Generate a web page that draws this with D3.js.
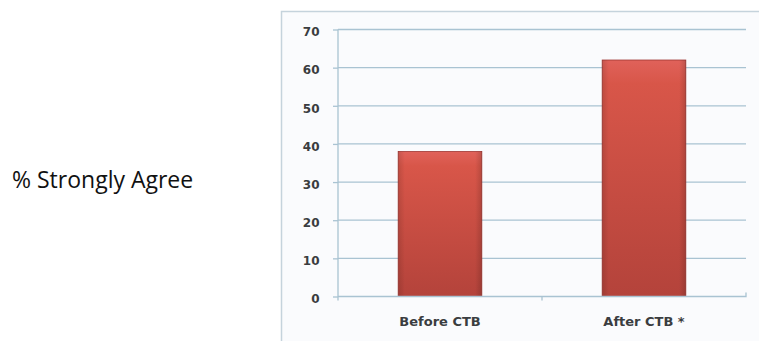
<!DOCTYPE html>
<html>
<head>
<meta charset="utf-8">
<script src="https://cdn.jsdelivr.net/npm/d3@7"></script>
<style>
  body { margin: 0; background: #fff; }
  svg { display: block; }
</style>
</head>
<body>
<div id="chart"></div>
<script>
// dados
var categories = ["Before CTB", "After CTB *"];
var values = [38, 62];
var yTicks = [0, 10, 20, 30, 40, 50, 60, 70];
var sideLabel = "% Strongly Agree";

var W = 759, H = 341;
var margin = { top: 29.5, left: 338, right: 13, bottom: 44.5 };
var width = W - margin.left - margin.right;
var height = H - margin.top - margin.bottom;

var svg = d3.select("#chart").append("svg")
    .attr("width", W)
    .attr("height", H);

// gradiente das barras
var defs = svg.append("defs");
var grad = defs.append("linearGradient").attr("id", "barGrad")
    .attr("x1", 0).attr("y1", 0).attr("x2", 0).attr("y2", 1);
grad.append("stop").attr("offset", "0%").attr("stop-color", "#e0625a");
grad.append("stop").attr("offset", "10%").attr("stop-color", "#d85649");
grad.append("stop").attr("offset", "100%").attr("stop-color", "#b4433b");
var gradH = defs.append("linearGradient").attr("id", "barEdge")
    .attr("x1", 0).attr("y1", 0).attr("x2", 1).attr("y2", 0);
gradH.append("stop").attr("offset", "0%").attr("stop-color", "#000").attr("stop-opacity", 0.12);
gradH.append("stop").attr("offset", "8%").attr("stop-color", "#000").attr("stop-opacity", 0);
gradH.append("stop").attr("offset", "92%").attr("stop-color", "#000").attr("stop-opacity", 0);
gradH.append("stop").attr("offset", "100%").attr("stop-color", "#000").attr("stop-opacity", 0.15);

// moldura do grafico
svg.append("rect")
    .attr("x", 281.5).attr("y", 11.5)
    .attr("width", W).attr("height", H)
    .attr("fill", "#fafbfd")
    .attr("stroke", "#c5d3dc")
    .attr("stroke-width", 1.5);

// texto lateral
svg.append("text")
    .attr("x", 12)
    .attr("y", 187.5)
    .attr("font-family", "Open Sans, sans-serif")
    .attr("font-size", 23)
    .attr("fill", "#111")
    .text(sideLabel);

var g = svg.append("g")
    .attr("transform", "translate(" + margin.left + "," + margin.top + ")");

var x = d3.scaleBand().domain(categories).range([0, width]).paddingInner(0.59).paddingOuter(0.295);
var y = d3.scaleLinear().domain([0, 70]).range([height, 0]);

// linhas de grade
g.selectAll(".grid").data(yTicks.slice(1)).enter()
    .append("line")
    .attr("class", "grid")
    .attr("x1", 0).attr("x2", width)
    .attr("y1", function(d) { return y(d); })
    .attr("y2", function(d) { return y(d); })
    .attr("stroke", "#a9c3d2")
    .attr("stroke-width", 1.3);

// eixo y
var yAxis = d3.axisLeft(y).tickValues(yTicks).tickSize(5).tickPadding(13.5);
var yg = g.append("g").call(yAxis);
yg.select(".domain").attr("stroke", "#a9c3d2").attr("stroke-width", 1.3)
    .attr("d", "M0," + (height + 4) + "V0");
yg.selectAll(".tick line").attr("stroke", "#a9c3d2").attr("stroke-width", 1.3);
yg.selectAll(".tick text")
    .attr("dy", "0.52em")
    .attr("font-family", "DejaVu Sans, sans-serif")
    .attr("font-size", 12)
    .attr("font-weight", "bold")
    .attr("fill", "#3a3d40");

// barras
var bars = g.selectAll(".bar").data(values).enter().append("g").attr("class", "bar");
bars.append("rect")
    .attr("x", function(d, i) { return x(categories[i]); })
    .attr("y", function(d) { return y(d); })
    .attr("width", x.bandwidth())
    .attr("height", function(d) { return height - y(d); })
    .attr("fill", "url(#barGrad)")
    .attr("stroke", "#9e3530")
    .attr("stroke-width", 0.8);
bars.append("rect")
    .attr("x", function(d, i) { return x(categories[i]); })
    .attr("y", function(d) { return y(d); })
    .attr("width", x.bandwidth())
    .attr("height", function(d) { return height - y(d); })
    .attr("fill", "url(#barEdge)");

// eixo x
var xAxis = d3.axisBottom(x).tickSize(0);
var xg = g.append("g").attr("transform", "translate(0," + height + ")").call(xAxis);
xg.select(".domain").attr("stroke", "#a9c3d2").attr("stroke-width", 1.3)
    .attr("d", "M0,0H" + width + "V-4");
xg.selectAll(".tick text")
    .attr("dy", null)
    .attr("y", 29)
    .attr("font-family", "DejaVu Sans, sans-serif")
    .attr("font-size", 13)
    .attr("font-weight", "bold")
    .attr("fill", "#3a3d40");

// marca entre categorias
g.append("line")
    .attr("x1", width / 2).attr("x2", width / 2)
    .attr("y1", height).attr("y2", height + 4)
    .attr("stroke", "#a9c3d2")
    .attr("stroke-width", 1.3);
</script>
</body>
</html>
